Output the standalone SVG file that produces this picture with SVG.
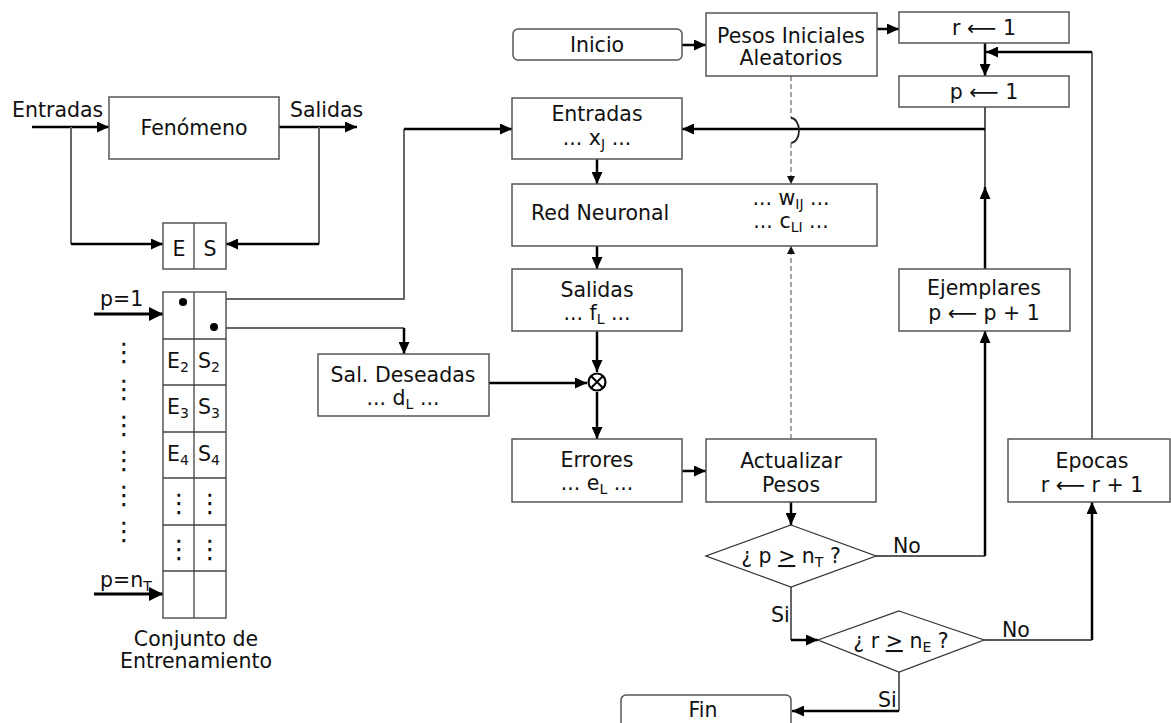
<svg xmlns="http://www.w3.org/2000/svg" width="1171" height="723" viewBox="0 0 1171 723">
<defs>
<style>
.box{fill:#fff;stroke:#555;stroke-width:1.5}
.dia{fill:#fff;stroke:#333;stroke-width:1.3}
.t{font-family:"DejaVu Sans","Liberation Sans",sans-serif;font-size:20.5px;fill:#111}
.c{text-anchor:middle}
.v{font-size:26px}
.thick{stroke:#000;stroke-width:2.5;fill:none}
.thin{stroke:#222;stroke-width:1.5;fill:none}
.gray{stroke:#666;stroke-width:2;fill:none}
.dash{stroke:#888;stroke-width:1.5;stroke-dasharray:5,3;fill:none}
.grid{stroke:#444;stroke-width:1.3;fill:none}
</style>
<marker id="a" markerUnits="userSpaceOnUse" markerWidth="13" markerHeight="11" refX="12" refY="5.5" orient="auto"><path d="M0,0 L12,5.5 L0,11 z" fill="#000"/></marker>
<marker id="ab" markerUnits="userSpaceOnUse" markerWidth="15" markerHeight="14" refX="14" refY="7" orient="auto"><path d="M0,0 L14,7 L0,14 z" fill="#000"/></marker>
<marker id="as" markerUnits="userSpaceOnUse" markerWidth="9" markerHeight="8" refX="8" refY="4" orient="auto"><path d="M0,0 L8,4 L0,8 z" fill="#111"/></marker>
</defs>

<g id="connectors">
<path class="thick" d="M32,127 H109" marker-end="url(#a)"/>
<path class="thick" d="M279,127 H357" marker-end="url(#a)"/>
<path class="gray" d="M71,127 V244"/>
<path class="thick" d="M71,244 H163" marker-end="url(#a)"/>
<path class="gray" d="M319,127 V244"/>
<path class="thick" d="M319,244 H226" marker-end="url(#a)"/>
<path stroke="#000" stroke-width="3" fill="none" d="M94,314 H163" marker-end="url(#ab)"/>
<path stroke="#000" stroke-width="3" fill="none" d="M94,594 H163" marker-end="url(#ab)"/>
<path class="gray" d="M183,299 H404 V129"/>
<path class="thick" d="M404,129 H512" marker-end="url(#a)"/>
<path class="gray" d="M214,328 H404"/>
<path class="thick" d="M404,328 V354" marker-end="url(#a)"/>
<path class="thick" d="M682,45 H706" marker-end="url(#a)"/>
<path class="thick" d="M877,29 H899" marker-end="url(#a)"/>
<path class="thick" d="M985,43 V76" marker-end="url(#a)"/>
<path class="gray" d="M1092,439 V52"/>
<path class="thick" d="M1092,52 H986" marker-end="url(#a)"/>
<path class="thin" d="M985,107 V190"/>
<path class="thick" d="M985,129 H682" marker-end="url(#a)"/>
<path class="thick" d="M985,269 V187" marker-end="url(#a)"/>
<path class="thick" d="M597,159 V184" marker-end="url(#a)"/>
<path class="thick" d="M597,246 V269" marker-end="url(#a)"/>
<path class="thick" d="M597,331 V372" marker-end="url(#a)"/>
<path class="thick" d="M489,383 H587" marker-end="url(#a)"/>
<path class="thick" d="M597,392 V439" marker-end="url(#a)"/>
<path class="thick" d="M682,471 H706" marker-end="url(#a)"/>
<path class="thick" d="M791,502 V525" marker-end="url(#a)"/>
<path class="thin" d="M876,556 H985"/>
<path class="thick" d="M985,556 V331" marker-end="url(#a)"/>
<path class="gray" d="M791,587 V640"/>
<path class="thick" d="M791,640 H818" marker-end="url(#a)"/>
<path class="thin" d="M984,640 H1092"/>
<path class="thick" d="M1092,640 V502" marker-end="url(#a)"/>
<path class="gray" d="M899,672 V711"/>
<path class="thick" d="M899,711 H792" marker-end="url(#a)"/>
<path class="dash" d="M791,76 V118"/>
<path stroke="#222" stroke-width="1.8" fill="none" d="M791,118 A8,12.5 0 0 1 791,143"/>
<path class="dash" d="M791,143 V184" marker-end="url(#as)"/>
<path class="dash" d="M791,439 V246" marker-end="url(#as)"/>
</g>

<g id="fenomeno">
<rect class="box" x="109" y="97" width="170" height="62"/>
<text class="t c" x="194" y="135">Fenómeno</text>
</g>
<g id="label-entradas"><text class="t" x="12" y="117">Entradas</text></g>
<g id="label-salidas"><text class="t" x="290" y="117">Salidas</text></g>

<g id="es">
<rect class="box" x="163" y="223" width="63" height="46"/>
<line class="grid" x1="194" y1="223" x2="194" y2="269"/>
<text class="t c" x="179" y="256">E</text>
<text class="t c" x="210" y="256">S</text>
</g>

<g id="conjunto">
<rect class="box" x="163" y="292" width="63" height="326"/>
<path class="grid" d="M194,292 V618 M163,339 H226 M163,385 H226 M163,432 H226 M163,478 H226 M163,525 H226 M163,571 H226"/>
<circle cx="183" cy="302" r="4" fill="#000"/>
<circle cx="214" cy="327" r="4" fill="#000"/>
<text class="t" x="167" y="368">E<tspan font-size="14" dy="4">2</tspan></text>
<text class="t" x="198" y="368">S<tspan font-size="14" dy="4">2</tspan></text>
<text class="t" x="167" y="414">E<tspan font-size="14" dy="4">3</tspan></text>
<text class="t" x="198" y="414">S<tspan font-size="14" dy="4">3</tspan></text>
<text class="t" x="167" y="461">E<tspan font-size="14" dy="4">4</tspan></text>
<text class="t" x="198" y="461">S<tspan font-size="14" dy="4">4</tspan></text>
<text class="t c v" x="179" y="512">⋮</text>
<text class="t c v" x="210" y="512">⋮</text>
<text class="t c v" x="179" y="558">⋮</text>
<text class="t c v" x="210" y="558">⋮</text>
<text class="t c" x="196" y="646">Conjunto de</text>
<text class="t c" x="196" y="668">Entrenamiento</text>
</g>

<g id="indices">
<text class="t" x="100" y="306">p=1</text>
<text class="t" x="100" y="587">p=n<tspan font-size="14" dy="4">T</tspan></text>
<text class="t c v" x="124" y="361">⋮</text>
<text class="t c v" x="124" y="398">⋮</text>
<text class="t c v" x="124" y="434">⋮</text>
<text class="t c v" x="124" y="469">⋮</text>
<text class="t c v" x="124" y="504">⋮</text>
<text class="t c v" x="124" y="540">⋮</text>
</g>

<g id="inicio">
<rect class="box" x="513" y="29" width="169" height="31" rx="5"/>
<text class="t c" x="597" y="52">Inicio</text>
</g>
<g id="pesos-iniciales">
<rect class="box" x="706" y="13" width="171" height="63"/>
<text class="t c" x="791" y="43">Pesos Iniciales</text>
<text class="t c" x="791" y="65">Aleatorios</text>
</g>
<g id="r1">
<rect class="box" x="899" y="12" width="170" height="31"/>
<text class="t c" x="984" y="35">r ⟵ 1</text>
</g>
<g id="p1">
<rect class="box" x="899" y="76" width="170" height="31"/>
<text class="t c" x="984" y="99">p ⟵ 1</text>
</g>
<g id="entradas">
<rect class="box" x="512" y="98" width="170" height="61"/>
<text class="t c" x="597" y="121">Entradas</text>
<text class="t c" x="597" y="145">... x<tspan font-size="14" dy="4">J</tspan><tspan dy="-4"> ...</tspan></text>
</g>
<g id="red">
<rect class="box" x="512" y="184" width="365" height="62"/>
<text class="t" x="531" y="220">Red Neuronal</text>
<text class="t c" x="791" y="205">... w<tspan font-size="14" dy="4">IJ</tspan><tspan dy="-4"> ...</tspan></text>
<text class="t c" x="791" y="228">... c<tspan font-size="14" dy="4">LI</tspan><tspan dy="-4"> ...</tspan></text>
</g>
<g id="salidas">
<rect class="box" x="512" y="269" width="170" height="62"/>
<text class="t c" x="597" y="297">Salidas</text>
<text class="t c" x="597" y="320">... f<tspan font-size="14" dy="4">L</tspan><tspan dy="-4"> ...</tspan></text>
</g>
<g id="comparador">
<circle cx="597" cy="382" r="8.5" fill="#fff" stroke="#000" stroke-width="2.2"/>
<path d="M591,376 L603,388 M603,376 L591,388" stroke="#000" stroke-width="2"/>
</g>
<g id="deseadas">
<rect class="box" x="318" y="354" width="171" height="62"/>
<text class="t c" x="403" y="382">Sal. Deseadas</text>
<text class="t c" x="403" y="405">... d<tspan font-size="14" dy="4">L</tspan><tspan dy="-4"> ...</tspan></text>
</g>
<g id="errores">
<rect class="box" x="512" y="439" width="170" height="63"/>
<text class="t c" x="597" y="467">Errores</text>
<text class="t c" x="597" y="490">... e<tspan font-size="14" dy="4">L</tspan><tspan dy="-4"> ...</tspan></text>
</g>
<g id="actualizar">
<rect class="box" x="706" y="439" width="170" height="63"/>
<text class="t c" x="791" y="468">Actualizar</text>
<text class="t c" x="791" y="492">Pesos</text>
</g>
<g id="ejemplares">
<rect class="box" x="899" y="269" width="171" height="62"/>
<text class="t c" x="984" y="295">Ejemplares</text>
<text class="t c" x="984" y="320">p ⟵  p + 1</text>
</g>
<g id="epocas">
<rect class="box" x="1008" y="439" width="162" height="63"/>
<text class="t c" x="1092" y="468">Epocas</text>
<text class="t c" x="1092" y="492">r ⟵  r + 1</text>
</g>
<g id="decision-p">
<polygon class="dia" points="791,525 876,556 791,587 706,556"/>
<text class="t c" x="791" y="563">¿ p <tspan text-decoration="underline">&gt;</tspan> n<tspan font-size="14" dy="4">T</tspan><tspan dy="-4"> ?</tspan></text>
<text class="t" x="893" y="553">No</text>
<text class="t" x="771" y="622">Si</text>
</g>
<g id="decision-r">
<polygon class="dia" points="899,611 984,640 899,672 818,640"/>
<text class="t c" x="901" y="648">¿ r <tspan text-decoration="underline">&gt;</tspan> n<tspan font-size="14" dy="4">E</tspan><tspan dy="-4"> ?</tspan></text>
<text class="t" x="1002" y="637">No</text>
<text class="t" x="878" y="707">Si</text>
</g>
<g id="fin">
<rect class="box" x="621" y="695" width="170" height="40" rx="5"/>
<text class="t c" x="703" y="717">Fin</text>
</g>
</svg>
